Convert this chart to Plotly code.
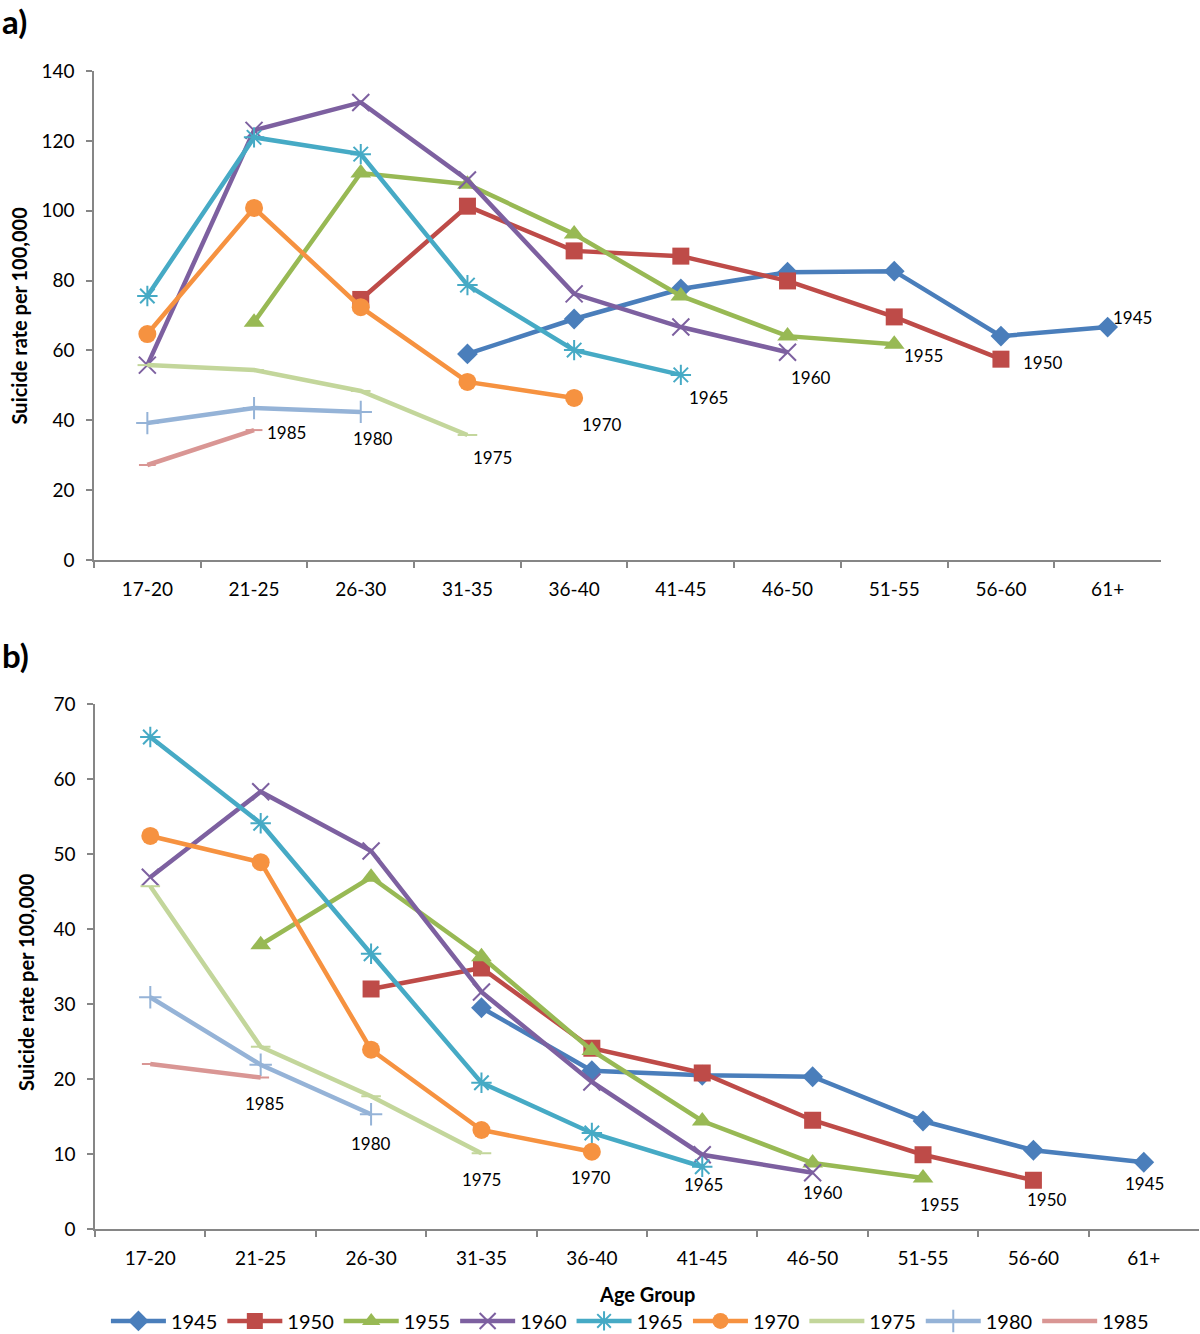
import plotly.graph_objects as go
from plotly.subplots import make_subplots

age_groups = ["17-20", "21-25", "26-30", "31-35", "36-40",
              "41-45", "46-50", "51-55", "56-60", "61+"]
cohorts = ["1945", "1950", "1955", "1960", "1965", "1970", "1975", "1980", "1985"]

# panel a) rates per 100,000 by birth cohort (None = not observed)
rates_a_1945 = [None, None, None, 59.0, 69.0, 77.6, 82.4, 82.7, 64.1, 66.7]
rates_a_1950 = [None, None, 74.6, 101.3, 88.5, 87.0, 79.9, 69.6, 57.5, None]
rates_a_1955 = [None, 68.1, 110.8, 107.6, 93.3, 75.6, 64.1, 61.8, None, None]
rates_a_1960 = [55.8, 123.0, 131.0, 108.8, 76.2, 66.7, 59.5, None, None, None]
rates_a_1965 = [75.6, 121.0, 116.2, 78.7, 60.1, 53.0, None, None, None, None]
rates_a_1970 = [64.7, 100.8, 72.4, 51.0, 46.4, None, None, None, None, None]
rates_a_1975 = [55.8, 54.4, 48.4, 35.8, None, None, None, None, None, None]
rates_a_1980 = [39.2, 43.5, 42.4, None, None, None, None, None, None, None]
rates_a_1985 = [27.2, 37.2, None, None, None, None, None, None, None, None]

# panel b)
rates_b_1945 = [None, None, None, 29.5, 21.1, 20.5, 20.3, 14.4, 10.5, 8.9]
rates_b_1950 = [None, None, 32.0, 34.8, 24.1, 20.8, 14.5, 9.9, 6.5, None]
rates_b_1955 = [None, 37.9, 46.9, 36.3, 23.8, 14.4, 8.8, 6.8, None, None]
rates_b_1960 = [46.9, 58.3, 50.4, 31.6, 19.6, 9.9, 7.5, None, None, None]
rates_b_1965 = [65.6, 54.1, 36.7, 19.5, 12.8, 8.3, None, None, None, None]
rates_b_1970 = [52.4, 48.9, 23.9, 13.2, 10.3, None, None, None, None, None]
rates_b_1975 = [45.7, 24.3, 17.7, 10.1, None, None, None, None, None, None]
rates_b_1980 = [30.9, 21.9, 15.3, None, None, None, None, None, None, None]
rates_b_1985 = [22.0, 20.2, None, None, None, None, None, None, None, None]

series_a = [rates_a_1945, rates_a_1950, rates_a_1955, rates_a_1960, rates_a_1965,
            rates_a_1970, rates_a_1975, rates_a_1980, rates_a_1985]
series_b = [rates_b_1945, rates_b_1950, rates_b_1955, rates_b_1960, rates_b_1965,
            rates_b_1970, rates_b_1975, rates_b_1980, rates_b_1985]

# styling
colors = ["#4A7EBB", "#BE4B48", "#98B954", "#7D60A0", "#46AAC5",
          "#F69240", "#C3D69B", "#95B3D7", "#D99694"]
symbols = ["diamond", "square", "triangle-up", "x-thin-open", "asterisk-open",
           "circle", "line-ew-open", "cross-thin-open", "line-ew-open"]
sizes = [16, 17, 18, 17, 17, 18, 14, 16, 12]
# (xshift, yshift) of end-of-line labels
label_shift_a = [(25, 10), (42, -3), (29, -11), (23, -25), (28, -23),
                 (28, -27), (25, -23), (12, -27), (32, -2)]
label_shift_b = [(1, -21), (14, -19), (16, -27), (10, -20), (1, -18),
                 (-1, -26), (0, -26), (0, -29), (4, -26)]

FONT = "Lato, 'Open Sans', sans-serif"

fig = make_subplots(rows=2, cols=1)


def add_panel(series, row, shifts):
    xref = "x" if row == 1 else "x2"
    yref = "y" if row == 1 else "y2"
    for i, (name, vals) in enumerate(zip(cohorts, series)):
        open_sym = symbols[i].endswith("open")
        fig.add_trace(
            go.Scatter(
                x=age_groups,
                y=vals,
                name=name,
                mode="lines+markers",
                line=dict(color=colors[i], width=4.5),
                marker=dict(
                    symbol=symbols[i],
                    size=sizes[i],
                    color=colors[i],
                    line=dict(color=colors[i], width=2 if open_sym else 0),
                ),
                showlegend=(row == 2),
                legendrank=i,
            ),
            row=row, col=1,
        )
        # label the last observed point
        last = max(j for j, v in enumerate(vals) if v is not None)
        fig.add_annotation(
            x=age_groups[last], y=vals[last], xref=xref, yref=yref,
            text=name, showarrow=False,
            xshift=shifts[i][0], yshift=shifts[i][1],
            font=dict(family=FONT, size=17, color="#000000"),
        )


add_panel(series_a, 1, label_shift_a)
add_panel(series_b, 2, label_shift_b)

axis_common = dict(
    showline=True, linecolor="#868686", linewidth=1.5,
    showgrid=False, zeroline=False,
    ticks="outside", tickcolor="#868686", ticklen=6, tickwidth=1.5,
    tickfont=dict(family=FONT, size=19, color="#000000"),
    automargin=False,
)

fig.update_xaxes(
    type="category", categoryorder="array", categoryarray=age_groups,
    range=[-0.5, 9.5], tickson="boundaries", ticklabelstandoff=11,
    **axis_common
)
fig.update_yaxes(ticklabelstandoff=8, **axis_common)

fig.update_layout(
    width=1200, height=1334,
    margin=dict(l=94, r=1, t=71, b=105, autoexpand=False),
    paper_bgcolor="white", plot_bgcolor="white",
    font=dict(family=FONT, color="#000000"),
    xaxis=dict(domain=[0.0, 0.9656], anchor="y"),
    yaxis=dict(domain=[0.5777, 1.0], range=[0, 140], dtick=20, anchor="x"),
    xaxis2=dict(domain=[0.001, 1.0], anchor="y2"),
    yaxis2=dict(domain=[0.0, 0.4534], range=[0, 70], dtick=10, anchor="x2"),
    legend=dict(
        orientation="h", x=0.485, xanchor="center", y=-0.0794, yanchor="middle",
        font=dict(family=FONT, size=20), itemwidth=55, tracegroupgap=0,
        traceorder="normal",
    ),
)

# panel letters and axis titles
fig.add_annotation(x=-0.0851, y=1.0432, xref="paper", yref="paper",
                   text="<b>a)</b>", showarrow=False,
                   xanchor="left", yanchor="middle",
                   font=dict(family=FONT, size=33))
fig.add_annotation(x=-0.0851, y=0.4957, xref="paper", yref="paper",
                   text="<b>b)</b>", showarrow=False,
                   xanchor="left", yanchor="middle",
                   font=dict(family=FONT, size=33))
fig.add_annotation(x=-0.0679, y=0.7889, xref="paper", yref="paper",
                   text="<b>Suicide rate per 100,000</b>", textangle=-90,
                   xanchor="center", yanchor="middle",
                   showarrow=False, font=dict(family=FONT, size=20))
fig.add_annotation(x=-0.0616, y=0.2133, xref="paper", yref="paper",
                   text="<b>Suicide rate per 100,000</b>", textangle=-90,
                   xanchor="center", yanchor="middle",
                   showarrow=False, font=dict(family=FONT, size=20))
fig.add_annotation(x=0.5, y=-0.0562, xref="paper", yref="paper",
                   text="<b>Age Group</b>", showarrow=False,
                   xanchor="center", yanchor="middle",
                   font=dict(family=FONT, size=20))

# the page body has a default 8px margin; drop it so the figure fills the window
fig.write_html(
    "out.html",
    config={"displayModeBar": False},
    post_script="document.body.style.margin = '0';",
)
